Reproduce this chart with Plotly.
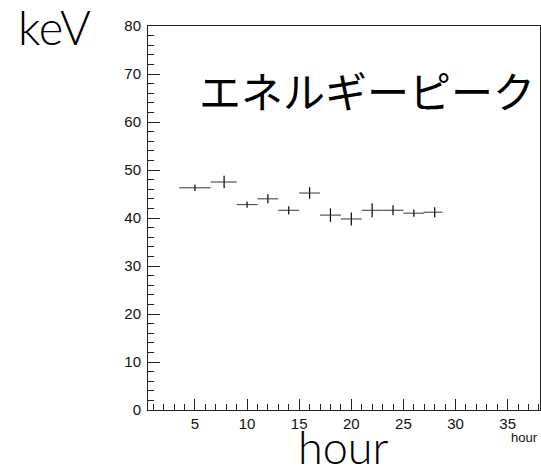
import plotly.graph_objects as go

# data
hours = [5.0, 7.8, 10.0, 12.0, 14.0, 16.0, 18.0, 20.0, 22.0, 24.0, 26.0, 28.0]
hour_err_minus = [1.5, 1.3, 1.0, 1.0, 1.0, 1.0, 1.0, 1.0, 1.0, 1.0, 1.0, 1.05]
hour_err_plus = [1.5, 1.2, 1.0, 1.0, 1.0, 1.0, 1.0, 1.0, 1.0, 1.0, 1.0, 0.75]
peak_kev = [46.3, 47.5, 42.8, 44.0, 41.6, 45.2, 40.6, 39.8, 41.6, 41.6, 41.0, 41.2]
peak_err = [0.7, 1.3, 0.65, 0.95, 0.85, 1.2, 1.4, 1.35, 1.45, 1.05, 0.75, 1.05]

W, H = 541, 476
L, R, T, B = 148, 1, 26, 66
pw, ph = W - L - R, H - T - B

def px(x):
    return (x - L) / pw

def py(y):
    return (H - B - y) / ph

fig = go.Figure()
fig.add_trace(go.Scatter(
    x=hours, y=peak_kev, mode="markers",
    marker=dict(size=1, color="black"),
    error_x=dict(type="data", symmetric=False, array=hour_err_plus,
                 arrayminus=hour_err_minus, width=0, thickness=1.2, color="#555555"),
    error_y=dict(type="data", array=peak_err, width=0, thickness=1.2, color="black"),
    showlegend=False, hoverinfo="skip",
))

tickfont = dict(family="Liberation Sans, Arial, sans-serif", size=15, color="#111111")
fig.update_xaxes(
    range=[0.5, 38.1], showgrid=False, zeroline=False,
    showline=True, linecolor="#222222", linewidth=1, mirror=True,
    ticks="inside", ticklen=11, tickcolor="#222222",
    tickvals=[5, 10, 15, 20, 25, 30, 35],
    minor=dict(ticks="inside", ticklen=6, dtick=1, tick0=0, tickcolor="#222222"),
    tickfont=tickfont,
)
fig.update_yaxes(
    range=[0, 80], showgrid=False, zeroline=False,
    showline=True, linecolor="#222222", linewidth=1, mirror=True,
    ticks="inside", ticklen=12, tickcolor="#222222", dtick=10, tick0=0,
    minor=dict(ticks="inside", ticklen=6, dtick=2, tick0=0, tickcolor="#222222"),
    tickfont=tickfont, ticklabelstandoff=3,
)

big = dict(family="Lato, Noto Sans, sans-serif", size=47, color="black", weight=300)
fig.add_annotation(text="keV", xref="paper", yref="paper", x=px(54), y=py(27),
                   xanchor="center", yanchor="middle", showarrow=False, font=big)
fig.add_annotation(text="hour", xref="paper", yref="paper", x=px(343), y=py(476),
                   xanchor="center", yanchor="bottom", showarrow=False,
                   font=dict(family="Lato, Noto Sans, sans-serif", size=45, color="black", weight=300))
fig.add_annotation(text="エネルギーピーク", xref="paper", yref="paper", x=px(367), y=py(89),
                   xanchor="center", yanchor="middle", showarrow=False,
                   font=dict(family="Noto Sans CJK JP", size=42, color="black"))
fig.add_annotation(text="hour", xref="paper", yref="paper", x=px(540), y=py(437),
                   xanchor="right", yanchor="middle", showarrow=False,
                   font=dict(family="Liberation Sans, Arial, sans-serif", size=13, color="#111111"))

fig.update_layout(
    width=W, height=H, margin=dict(l=L, r=R, t=T, b=B, pad=0),
    plot_bgcolor="white", paper_bgcolor="white",
)
fig.write_html("out.html")
